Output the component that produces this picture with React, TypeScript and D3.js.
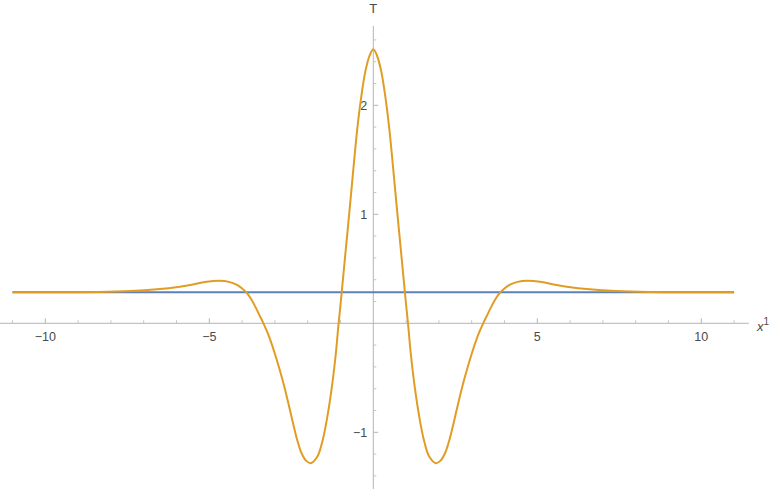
import React from "react";
import * as d3 from "d3";

const width = 775;
const height = 489;

// x positions of the orange curve samples
const xValues = [
  -11, -9.5, -8.4, -7.4, -6.6, -5.9, -5.5, -5.08, -4.68, -4.4, -4.17, -4.0, -3.86, -3.74, -3.61,
  -3.48, -3.35, -3.24, -3.12, -3.0, -2.87, -2.74, -2.6, -2.46, -2.32, -2.19, -2.05, -1.91, -1.7,
  -1.55, -1.42, -1.27, -1.14, -1.07, -0.99, -0.87, -0.73, -0.6, -0.49, -0.38, -0.25, -0.12, 0,
  0.12, 0.25, 0.38, 0.49, 0.6, 0.73, 0.87, 0.99, 1.07, 1.14, 1.27, 1.42, 1.55, 1.7, 1.91, 2.05,
  2.19, 2.32, 2.46, 2.6, 2.74, 2.87, 3.0, 3.12, 3.24, 3.35, 3.48, 3.61, 3.74, 3.86, 4.0, 4.17,
  4.4, 4.68, 5.08, 5.5, 5.9, 6.6, 7.4, 8.4, 9.5, 11,
];
// T values of the orange curve
const tValues = [
  0.284, 0.285, 0.287, 0.296, 0.312, 0.336, 0.356, 0.382, 0.391, 0.38, 0.355, 0.32, 0.28, 0.23,
  0.16, 0.08, 0.0, -0.075, -0.17, -0.28, -0.41, -0.55, -0.72, -0.9, -1.07, -1.19, -1.26, -1.284,
  -1.22, -1.08, -0.89, -0.6, -0.27, -0.04, 0.2, 0.58, 1.02, 1.44, 1.78, 2.05, 2.3, 2.45, 2.514,
  2.45, 2.3, 2.05, 1.78, 1.44, 1.02, 0.58, 0.2, -0.04, -0.27, -0.6, -0.89, -1.08, -1.22, -1.284,
  -1.26, -1.19, -1.07, -0.9, -0.72, -0.55, -0.41, -0.28, -0.17, -0.075, 0.0, 0.08, 0.16, 0.23,
  0.28, 0.32, 0.355, 0.38, 0.391, 0.382, 0.356, 0.336, 0.312, 0.296, 0.287, 0.285, 0.284,
];
// flat blue line
const flatX = [-11, 11];
const flatT = [0.284, 0.284];

const xMajor = [-10, -5, 5, 10];
const yMajor = [-1, 1, 2];

const xScale = d3.scaleLinear().domain([-11, 11]).range([12.5, 734.1]);
const yScale = d3.scaleLinear().domain([-1, 2]).range([432.3, 105.3]);

const App = () => {
  const line = d3
    .line<number>()
    .curve(d3.curveCatmullRom.alpha(0.5))
    .x((_, i) => xScale(xValues[i]))
    .y((d) => yScale(d));
  const flatLine = d3
    .line<number>()
    .x((_, i) => xScale(flatX[i]))
    .y((d) => yScale(d));

  const xMinor = d3.range(-11, 12, 1).filter((v) => v !== 0 && !xMajor.includes(v));
  const yMinor = d3
    .range(-1.4, 2.61, 0.2)
    .map((v) => Math.round(v * 10) / 10)
    .filter((v) => v !== 0 && !yMajor.includes(v));

  const x0 = xScale(0);
  const y0 = yScale(0);
  const font = "'Liberation Sans', Arial, sans-serif";

  return (
    <svg
      width={width}
      height={height}
      style={{ position: "absolute", left: 0, top: 0, background: "#fff" }}
    >
      {/* axes */}
      <line x1={xScale(-11.45)} x2={xScale(11.45)} y1={y0} y2={y0} stroke="#b5b5b5" />
      <line x1={x0} x2={x0} y1={yScale(2.727)} y2={height} stroke="#b5b5b5" />

      {/* x ticks */}
      {xMinor.map((v) => (
        <line key={"xm" + v} x1={xScale(v)} x2={xScale(v)} y1={y0} y2={y0 - 3} stroke="#c4c4c4" />
      ))}
      {xMajor.map((v) => (
        <g key={"xM" + v}>
          <line x1={xScale(v)} x2={xScale(v)} y1={y0} y2={y0 - 5} stroke="#b5b5b5" />
          <text
            x={xScale(v)}
            y={y0 + 17.5}
            textAnchor="middle"
            fontFamily={font}
            fontSize={12.5}
            fill="#4a4a4a"
          >
            {v < 0 ? "\u2212" + Math.abs(v) : v}
          </text>
        </g>
      ))}

      {/* y ticks */}
      {yMinor.map((v) => (
        <line key={"ym" + v} x1={x0} x2={x0 + 3} y1={yScale(v)} y2={yScale(v)} stroke="#c4c4c4" />
      ))}
      {yMajor.map((v) => (
        <g key={"yM" + v}>
          <line x1={x0} x2={x0 + 5} y1={yScale(v)} y2={yScale(v)} stroke="#b5b5b5" />
          <text
            x={x0 - 6}
            y={yScale(v) + 4.5}
            textAnchor="end"
            fontFamily={font}
            fontSize={12.5}
            fill="#4a4a4a"
          >
            {v < 0 ? "\u2212" + Math.abs(v) : v}
          </text>
        </g>
      ))}

      {/* axis labels */}
      <text x={x0} y={12.5} textAnchor="middle" fontFamily={font} fontSize={13} fill="#4a4a4a">
        T
      </text>
      <text x={757} y={331} fontFamily={font} fontSize={13} fill="#4a4a4a">
        <tspan fontStyle="italic">x</tspan>
        <tspan dy={-6} fontSize={10}>
          1
        </tspan>
      </text>

      {/* series */}
      <path d={flatLine(flatT) || ""} fill="none" stroke="#5e81b5" strokeWidth={2} />
      <path d={line(tValues) || ""} fill="none" stroke="#e19c24" strokeWidth={2} />
    </svg>
  );
};

export default App;
